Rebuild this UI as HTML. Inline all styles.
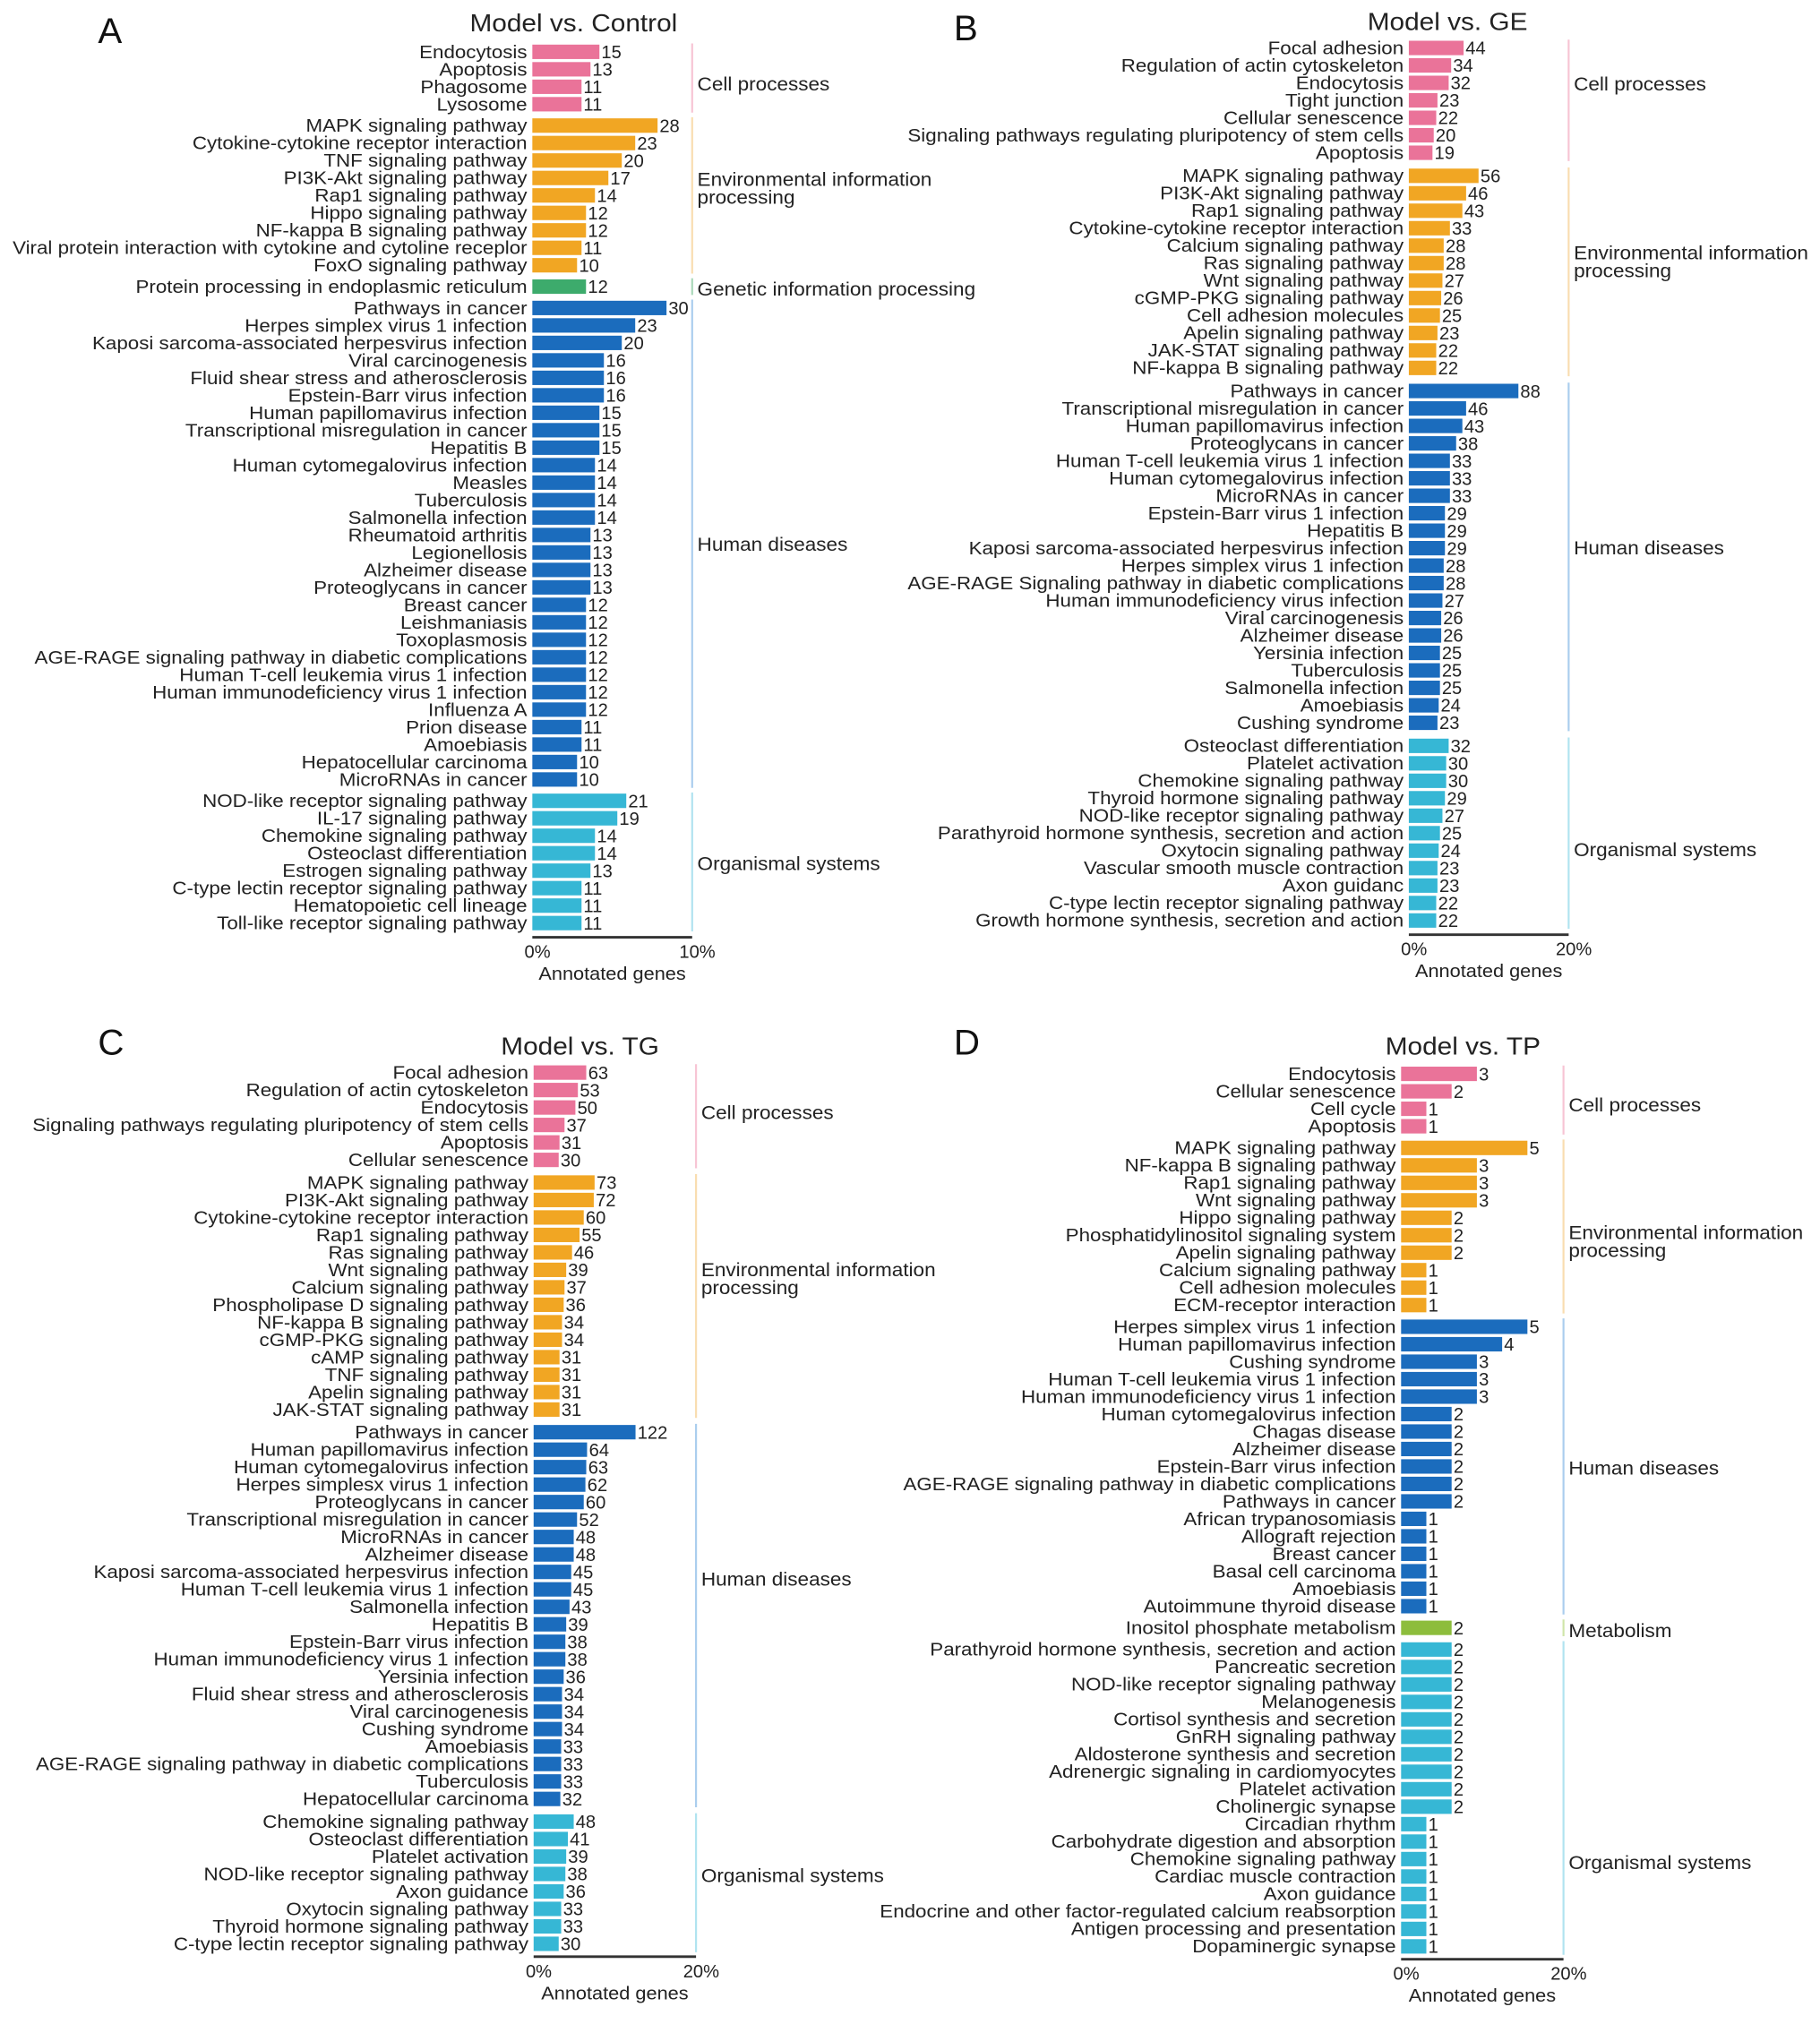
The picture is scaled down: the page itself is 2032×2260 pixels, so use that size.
<!DOCTYPE html>
<html><head><meta charset="utf-8"><style>
html,body{margin:0;padding:0;background:#fff;}
svg{display:block;font-family:"Liberation Sans",Arial,sans-serif;}
</style></head><body>
<svg id="chart" width="2032" height="2260" viewBox="0 0 1412 1570" xmlns="http://www.w3.org/2000/svg"></svg>
<script>
const COL={cell:"#ea7399",env:"#f1a623",gen:"#3dab6c",hum:"#1b6cbd",org:"#36b7d5",met:"#8dbd3c"};
const LINE={cell:"#f7c4d4",env:"#f9ddb0",gen:"#a9d8b9",hum:"#aacdee",org:"#b0e3f0",met:"#cfe5a9"};

// Panel A
const aLabels=["Endocytosis","Apoptosis","Phagosome","Lysosome","MAPK signaling pathway","Cytokine-cytokine receptor interaction","TNF signaling pathway","PI3K-Akt signaling pathway","Rap1 signaling pathway","Hippo signaling pathway","NF-kappa B signaling pathway","Viral protein interaction with cytokine and cytoline receplor","FoxO signaling pathway","Protein processing in endoplasmic reticulum","Pathways in cancer","Herpes simplex virus 1 infection","Kaposi sarcoma-associated herpesvirus infection","Viral carcinogenesis","Fluid shear stress and atherosclerosis","Epstein-Barr virus infection","Human papillomavirus infection","Transcriptional misregulation in cancer","Hepatitis B","Human cytomegalovirus infection","Measles","Tuberculosis","Salmonella infection","Rheumatoid arthritis","Legionellosis","Alzheimer disease","Proteoglycans in cancer","Breast cancer","Leishmaniasis","Toxoplasmosis","AGE-RAGE signaling pathway in diabetic complications","Human T-cell leukemia virus 1 infection","Human immunodeficiency virus 1 infection","Influenza A","Prion disease","Amoebiasis","Hepatocellular carcinoma","MicroRNAs in cancer","NOD-like receptor signaling pathway","IL-17 signaling pathway","Chemokine signaling pathway","Osteoclast differentiation","Estrogen signaling pathway","C-type lectin receptor signaling pathway","Hematopoietic cell lineage","Toll-like receptor signaling pathway"];
const aValues=[15,13,11,11,28,23,20,17,14,12,12,11,10,12,30,23,20,16,16,16,15,15,15,14,14,14,14,13,13,13,13,12,12,12,12,12,12,12,11,11,10,10,21,19,14,14,13,11,11,11];
const aGroups=[["Cell processes",4,"cell"],["Environmental information|processing",9,"env"],["Genetic information processing",1,"gen"],["Human diseases",28,"hum"],["Organismal systems",8,"org"]];

// Panel B
const bLabels=["Focal adhesion","Regulation of actin cytoskeleton","Endocytosis","Tight junction","Cellular senescence","Signaling pathways regulating pluripotency of stem cells","Apoptosis","MAPK signaling pathway","PI3K-Akt signaling pathway","Rap1 signaling pathway","Cytokine-cytokine receptor interaction","Calcium signaling pathway","Ras signaling pathway","Wnt signaling pathway","cGMP-PKG signaling pathway","Cell adhesion molecules","Apelin signaling pathway","JAK-STAT signaling pathway","NF-kappa B signaling pathway","Pathways in cancer","Transcriptional misregulation in cancer","Human papillomavirus infection","Proteoglycans in cancer","Human T-cell leukemia virus 1 infection","Human cytomegalovirus infection","MicroRNAs in cancer","Epstein-Barr virus 1 infection","Hepatitis B","Kaposi sarcoma-associated herpesvirus infection","Herpes simplex virus 1 infection","AGE-RAGE Signaling pathway in diabetic complications","Human immunodeficiency virus infection","Viral carcinogenesis","Alzheimer disease","Yersinia infection","Tuberculosis","Salmonella infection","Amoebiasis","Cushing syndrome","Osteoclast differentiation","Platelet activation","Chemokine signaling pathway","Thyroid hormone signaling pathway","NOD-like receptor signaling pathway","Parathyroid hormone synthesis, secretion and action","Oxytocin signaling pathway","Vascular smooth muscle contraction","Axon guidanc","C-type lectin receptor signaling pathway","Growth hormone synthesis, secretion and action"];
const bValues=[44,34,32,23,22,20,19,56,46,43,33,28,28,27,26,25,23,22,22,88,46,43,38,33,33,33,29,29,29,28,28,27,26,26,25,25,25,24,23,32,30,30,29,27,25,24,23,23,22,22];
const bGroups=[["Cell processes",7,"cell"],["Environmental information|processing",12,"env"],["Human diseases",20,"hum"],["Organismal systems",11,"org"]];

// Panel C
const cLabels=["Focal adhesion","Regulation of actin cytoskeleton","Endocytosis","Signaling pathways regulating pluripotency of stem cells","Apoptosis","Cellular senescence","MAPK signaling pathway","PI3K-Akt signaling pathway","Cytokine-cytokine receptor interaction","Rap1 signaling pathway","Ras signaling pathway","Wnt signaling pathway","Calcium signaling pathway","Phospholipase D signaling pathway","NF-kappa B signaling pathway","cGMP-PKG signaling pathway","cAMP signaling pathway","TNF signaling pathway","Apelin signaling pathway","JAK-STAT signaling pathway","Pathways in cancer","Human papillomavirus infection","Human cytomegalovirus infection","Herpes simplesx virus 1 infection","Proteoglycans in cancer","Transcriptional misregulation in cancer","MicroRNAs in cancer","Alzheimer disease","Kaposi sarcoma-associated herpesvirus infection","Human T-cell leukemia virus 1 infection","Salmonella infection","Hepatitis B","Epstein-Barr virus infection","Human immunodeficiency virus 1 infection","Yersinia infection","Fluid shear stress and atherosclerosis","Viral carcinogenesis","Cushing syndrome","Amoebiasis","AGE-RAGE signaling pathway in diabetic complications","Tuberculosis","Hepatocellular carcinoma","Chemokine signaling pathway","Osteoclast differentiation","Platelet activation","NOD-like receptor signaling pathway","Axon guidance","Oxytocin signaling pathway","Thyroid hormone signaling pathway","C-type lectin receptor signaling pathway"];
const cValues=[63,53,50,37,31,30,73,72,60,55,46,39,37,36,34,34,31,31,31,31,122,64,63,62,60,52,48,48,45,45,43,39,38,38,36,34,34,34,33,33,33,32,48,41,39,38,36,33,33,30];
const cGroups=[["Cell processes",6,"cell"],["Environmental information|processing",14,"env"],["Human diseases",22,"hum"],["Organismal systems",8,"org"]];

// Panel D
const dLabels=["Endocytosis","Cellular senescence","Cell cycle","Apoptosis","MAPK signaling pathway","NF-kappa B signaling pathway","Rap1 signaling pathway","Wnt signaling pathway","Hippo signaling pathway","Phosphatidylinositol signaling system","Apelin signaling pathway","Calcium signaling pathway","Cell adhesion molecules","ECM-receptor interaction","Herpes simplex virus 1 infection","Human papillomavirus infection","Cushing syndrome","Human T-cell leukemia virus 1 infection","Human immunodeficiency virus 1 infection","Human cytomegalovirus infection","Chagas disease","Alzheimer disease","Epstein-Barr virus infection","AGE-RAGE signaling pathway in diabetic complications","Pathways in cancer","African trypanosomiasis","Allograft rejection","Breast cancer","Basal cell carcinoma","Amoebiasis","Autoimmune thyroid disease","Inositol phosphate metabolism","Parathyroid hormone synthesis, secretion and action","Pancreatic secretion","NOD-like receptor signaling pathway","Melanogenesis","Cortisol synthesis and secretion","GnRH signaling pathway","Aldosterone synthesis and secretion","Adrenergic signaling in cardiomyocytes","Platelet activation","Cholinergic synapse","Circadian rhythm","Carbohydrate digestion and absorption","Chemokine signaling pathway","Cardiac muscle contraction","Axon guidance","Endocrine and other factor-regulated calcium reabsorption","Antigen processing and presentation","Dopaminergic synapse"];
const dValues=[3,2,1,1,5,3,3,3,2,2,2,1,1,1,5,4,3,3,3,2,2,2,2,2,2,1,1,1,1,1,1,2,2,2,2,2,2,2,2,2,2,2,1,1,1,1,1,1,1,1];
const dGroups=[["Cell processes",4,"cell"],["Environmental information|processing",10,"env"],["Human diseases",17,"hum"],["Metabolism",1,"met"],["Organismal systems",18,"org"]];

const svg=document.getElementById('chart');
const NS="http://www.w3.org/2000/svg";
function mk(tag,attrs,parent){const e=document.createElementNS(NS,tag);for(const k in attrs)e.setAttribute(k,attrs[k]);parent.appendChild(e);return e;}
function stretch(el,f){try{const w=el.getComputedTextLength();if(w>0){el.setAttribute('textLength',(w*f).toFixed(1));el.setAttribute('lengthAdjust','spacingAndGlyphs');}}catch(e){}}

function panel(id,letter,title,labels,values,groups,o){
  const g=mk('g',{},svg);
  
  
  const L=mk('text',{x:o.lx,y:o.ly,'font-size':28,fill:'#111'},g);L.textContent=letter;
  
  
  const T=mk('text',{x:o.tx,y:o.ty,'font-size':19,'text-anchor':'middle',fill:'#222'},g);T.textContent=title;
  
  
  stretch(T,1.09);
  const n=labels.length;const ng=groups.length;
  const pitch=13.55;const gap=(o.y1-o.y0-(n-1)*pitch)/(ng-1);
  const xs=v=>o.x0+v*o.ppg;
  let idx=0;
  groups.forEach((gr,gi)=>{
    const first=idx;
    for(let k=0;k<gr[1];k++,idx++){
      const cy=o.y0+idx*pitch+gi*gap;
      const lab=mk('text',{x:o.x0-4,y:cy+4.8,'font-size':14,'text-anchor':'end',fill:'#222'},g);lab.textContent=labels[idx];
      
      
      stretch(lab,1.11);
      const r=mk('rect',{x:o.x0,y:cy-5.6,width:xs(values[idx])-o.x0,height:11.2,fill:COL[gr[2]]},g);
      
      
      const vt=mk('text',{x:xs(values[idx])+1.5,y:cy+5,'font-size':14,fill:'#222'},g);vt.textContent=values[idx];
      
      
    }
    const ya=o.y0+first*pitch+gi*gap-6.5, yb=o.y0+(idx-1)*pitch+gi*gap+6.5;
    const ln=mk('line',{x1:o.cx,x2:o.cx,y1:ya,y2:yb,stroke:LINE[gr[2]],'stroke-width':1.5},g);
    
    
    const parts=gr[0].split('|');
    const by=o.gy[gi];
    parts.forEach((p,pi)=>{
      const ct=mk('text',{x:o.cx+4,y:by+pi*14,'font-size':14.5,fill:'#222'},g);ct.textContent=p;
      
      
      stretch(ct,1.08);
    });
  });
  const ax=mk('line',{x1:o.x0,x2:o.cx,y1:o.ay,y2:o.ay,stroke:'#333','stroke-width':2},g);
  
  
  const ticks=[["0%",o.x0+4],[o.maxPct,o.cx+4]];
  ticks.forEach(t=>{const tt=mk('text',{x:t[1],y:o.ay+16,'font-size':14,'text-anchor':'middle',fill:'#222'},g);tt.textContent=t[0];
    
    });
  const at=mk('text',{x:(o.x0+o.cx)/2,y:o.ay+33,'font-size':14,'text-anchor':'middle',fill:'#222'},g);at.textContent="Annotated genes";
  
  
  stretch(at,1.08);
}
panel('a','A','Model vs. Control',aLabels,aValues,aGroups,{lx:76,ly:33,tx:445,ty:24,x0:413,y0:40,y1:716,ppg:3.47,cx:537,ay:727,maxPct:"10%",gy:[70,144,229,427,675]});
panel('b','B','Model vs. GE',bLabels,bValues,bGroups,{lx:740,ly:31,tx:1123,ty:23,x0:1093,y0:37,y1:714,ppg:0.966,cx:1217,ay:725,maxPct:"20%",gy:[70,201,430,664]});
panel('c','C','Model vs. TG',cLabels,cValues,cGroups,{lx:76,ly:818,tx:450,ty:818,x0:414,y0:832,y1:1508,ppg:0.648,cx:540,ay:1518,maxPct:"20%",gy:[868,990,1230,1460]});
panel('d','D','Model vs. TP',dLabels,dValues,dGroups,{lx:740,ly:818,tx:1135,ty:818,x0:1087,y0:833,y1:1510,ppg:19.6,cx:1213,ay:1520,maxPct:"20%",gy:[862,961,1144,1270,1450]});
</script>
</body></html>
